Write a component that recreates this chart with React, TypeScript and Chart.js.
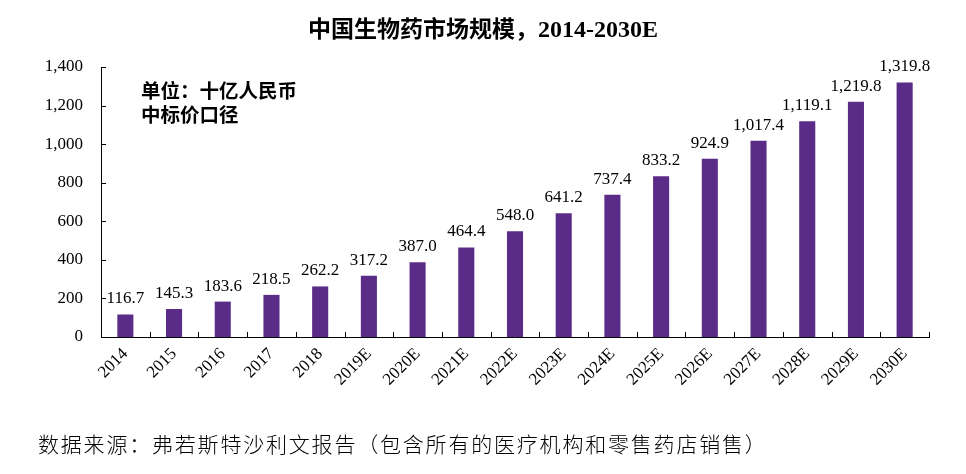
import React, { useEffect, useRef } from "react";
import { Chart, registerables } from "chart.js";

Chart.register(...registerables);

const categories = ["2014","2015","2016","2017","2018","2019E","2020E","2021E","2022E","2023E","2024E","2025E","2026E","2027E","2028E","2029E","2030E"];
const marketSize = [116.7,145.3,183.6,218.5,262.2,317.2,387.0,464.4,548.0,641.2,737.4,833.2,924.9,1017.4,1119.1,1219.8,1319.8];
const yTicks = [0, 200, 400, 600, 800, 1000, 1200, 1400];

const titleText = "中国生物药市场规模，";
const titleYears = "2014-2030E";
const unitLines = ["单位：十亿人民币", "中标价口径"];
const sourceText = "数据来源：弗若斯特沙利文报告（包含所有的医疗机构和零售药店销售）";

const serif = "'Liberation Serif', 'Times New Roman', serif";
const cjk = "'Noto Sans CJK SC', sans-serif";

const fmt = (v: number) =>
  v.toLocaleString("en-US", { minimumFractionDigits: 1, maximumFractionDigits: 1 });

const extrasPlugin = {
  id: "extras",
  afterDatasetsDraw(chart: any) {
    const ctx = chart.ctx;
    const meta = chart.getDatasetMeta(0);
    ctx.save();
    ctx.fillStyle = "#000";
    ctx.font = `17px ${serif}`;
    ctx.textAlign = "center";
    ctx.textBaseline = "alphabetic";
    meta.data.forEach((bar: any, i: number) => {
      ctx.fillText(fmt(marketSize[i]), bar.x, bar.y - 11);
    });
    // inward ticks
    const x = chart.scales.x;
    const y = chart.scales.y;
    ctx.strokeStyle = "#000";
    ctx.lineWidth = 1;
    ctx.beginPath();
    const half = (x.getPixelForValue(1) - x.getPixelForValue(0)) / 2;
    for (let i = 0; i <= categories.length; i++) {
      const px = Math.round(x.getPixelForValue(i) - half) + 0.5;
      ctx.moveTo(px, y.bottom);
      ctx.lineTo(px, y.bottom - 5);
    }
    yTicks.forEach((t) => {
      const py = Math.round(y.getPixelForValue(t)) + 0.5;
      ctx.moveTo(x.left, py);
      ctx.lineTo(x.left + 5, py);
    });
    ctx.stroke();
    ctx.restore();
  },
};

export default function App() {
  const ref = useRef<HTMLCanvasElement | null>(null);
  useEffect(() => {
    if (!ref.current) return;
    const chart = new Chart(ref.current, {
      type: "bar",
      data: {
        labels: categories,
        datasets: [
          {
            data: marketSize,
            backgroundColor: "#5b2c87",
            borderWidth: 0,
            categoryPercentage: 1,
            barPercentage: 0.33,
          },
        ],
      },
      options: {
        responsive: false,
        animation: false,
        maintainAspectRatio: false,
        layout: { padding: { left: 0, top: 67, right: 37, bottom: 0 } },
        plugins: { legend: { display: false }, tooltip: { enabled: false }, title: { display: false } },
        scales: {
          x: {
            grid: { display: false, drawTicks: false },
            border: { display: true, color: "#000", width: 1 },
            ticks: {
              color: "#000",
              font: { family: serif, size: 17 },
              minRotation: 45,
              maxRotation: 45,
              padding: 7,
              autoSkip: false,
            },
            afterFit: (s: any) => {
              s.height = 137;
            },
          },
          y: {
            min: 0,
            max: 1400,
            afterBuildTicks: (s: any) => {
              s.ticks = yTicks.map((v) => ({ value: v }));
            },
            grid: { display: false, drawTicks: false },
            border: { display: true, color: "#000", width: 1 },
            ticks: {
              color: "#000",
              font: { family: serif, size: 17 },
              padding: 18,
              callback: (v: any) => Number(v).toLocaleString("en-US"),
            },
            afterFit: (s: any) => {
              s.width = 101;
            },
          },
        },
      },
      plugins: [extrasPlugin],
    });
    return () => chart.destroy();
  }, []);

  return (
    <div style={{ position: "absolute", left: 0, top: 0, width: 966, height: 474, background: "#fff", overflow: "hidden" }}>
      <canvas ref={ref} width={966} height={474} style={{ position: "absolute", left: 0, top: 0, width: 966, height: 474 }} />
      <div
        style={{
          position: "absolute",
          left: 0,
          width: 966,
          top: 12,
          textAlign: "center",
          fontWeight: "bold",
          fontSize: 23,
          lineHeight: "30px",
          color: "#000",
          fontFamily: cjk,
        }}
      >
        {titleText}
        <span style={{ fontFamily: serif, fontSize: 24 }}>{titleYears}</span>
      </div>
      <div
        style={{
          position: "absolute",
          left: 141,
          top: 78,
          fontWeight: "bold",
          fontSize: 19.5,
          lineHeight: "24px",
          color: "#000",
          fontFamily: cjk,
        }}
      >
        {unitLines.map((l) => (
          <div key={l}>{l}</div>
        ))}
      </div>
      <div
        style={{
          position: "absolute",
          left: 38,
          top: 428,
          fontSize: 21,
          lineHeight: "30px",
          letterSpacing: 1.8,
          color: "#000",
          fontFamily: cjk,
          fontWeight: 300,
          whiteSpace: "nowrap",
        }}
      >
        {sourceText}
      </div>
    </div>
  );
}
